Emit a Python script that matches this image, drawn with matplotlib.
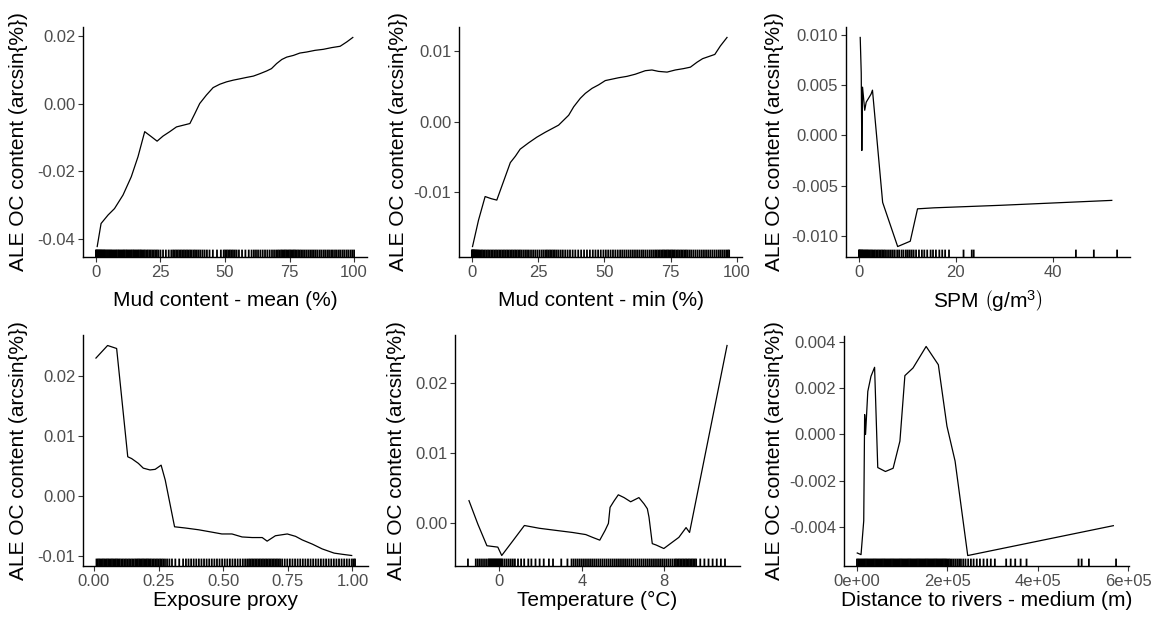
import matplotlib
matplotlib.use("Agg")
import matplotlib.pyplot as plt
from matplotlib.ticker import FixedLocator, FixedFormatter

plt.rcParams['font.family'] = ['Liberation Sans', 'DejaVu Sans']
plt.rcParams['mathtext.fontset'] = 'custom'
plt.rcParams['mathtext.rm'] = 'Liberation Sans'
plt.rcParams['mathtext.it'] = 'Liberation Sans:italic'
plt.rcParams['axes.unicode_minus'] = False

# ---- data ----
mud_mean_x = [0.5, 2, 4.7, 7.2, 10.5, 13.7, 16.3, 18.9, 21.5, 23.7, 26, 28.6, 31.2, 33.8,
              36.4, 38.3, 40.2, 42.8, 45.4, 48, 50.6, 53.2, 55.8, 58.3, 61, 63.5, 66.1,
              68, 70, 72, 73.9, 76.5, 79, 81.6, 84.9, 88.1, 91.3, 94.6, 97.2, 99.5]
mud_mean_y = [-0.0422, -0.0354, -0.0329, -0.031, -0.027, -0.0216, -0.0157, -0.0083,
              -0.0098, -0.0111, -0.0096, -0.0083, -0.0069, -0.0064, -0.0059, -0.003,
              0.0, 0.0025, 0.0047, 0.0057, 0.0064, 0.0069, 0.0073, 0.0077, 0.0081,
              0.0088, 0.0096, 0.0103, 0.0118, 0.013, 0.0137, 0.0142, 0.0149, 0.0152,
              0.0157, 0.016, 0.0165, 0.0169, 0.0182, 0.0195]
mud_mean_rug = [0, 0.2, 0.4, 0.7, 0.9, 1.2, 1.5, 1.7, 2, 2.3, 2.6, 2.9, 3.2, 3.5, 3.9, 4.3,
                4.7, 5.1, 5.5, 5.9, 6.3, 6.8, 7.2, 7.7, 8.1, 8.6, 9, 9.5, 9.9, 10.4, 10.8,
                11.2, 11.7, 12.1, 12.6, 13, 13.5, 13.9, 14.4, 14.8, 15.3, 15.7, 16.2, 16.6,
                17.1, 17.5, 18, 18.5, 19, 19.6, 20.1, 20.7, 21.2, 21.8, 22.4, 23, 23.6, 24.2,
                25, 26, 27.1, 28.2, 29.2, 29.9, 30.5, 31.1, 31.7, 32.3, 32.9, 33.5, 34.1,
                34.7, 35.3, 35.9, 36.5, 37.1, 37.8, 38.4, 39.1, 39.8, 40.5, 41.3, 42.1, 43,
                44, 45.3, 46.9, 48.4, 49.5, 50.1, 50.7, 51.3, 51.9, 52.5, 53.1, 53.8, 54.5,
                55.4, 56.6, 57.9, 59.2, 60.3, 61.2, 62, 62.8, 63.7, 64.6, 65.5, 66.4, 67.3,
                68.2, 69, 69.8, 70.5, 71.1, 71.7, 72.2, 72.7, 73.2, 73.7, 74.2, 74.7, 75.2,
                75.7, 76.2, 76.7, 77.2, 77.7, 78.3, 78.9, 79.5, 80.2, 80.9, 81.6, 82.3, 83,
                83.7, 84.4, 85.1, 85.8, 86.6, 87.3, 88.1, 88.8, 89.6, 90.3, 91.1, 91.8, 92.6,
                93.3, 94.1, 94.8, 95.6, 96.3, 97.1, 97.8, 98.6, 99.3, 100]

mud_min_x = [0.25, 2.5, 5, 7.3, 9.4, 12, 14.5, 16.4, 18.2, 21.4, 24.5, 27.7, 30.2, 32.7,
             34.6, 36.5, 38.4, 40.9, 42.8, 45.3, 47.8, 50.3, 52.8, 55.3, 58.5, 61.6, 65.4,
             67.9, 70.4, 73.6, 76.7, 79.9, 82.4, 84.9, 87, 89.3, 91.6, 93.7, 96.2]
mud_min_y = [-0.01767, -0.01395, -0.0106, -0.0109, -0.0111, -0.0084, -0.0058, -0.0049,
             -0.0039, -0.003, -0.0022, -0.0015, -0.001, -0.0005, 0.0002, 0.0009, 0.0021,
             0.0033, 0.004, 0.0047, 0.0052, 0.0058, 0.006, 0.0062, 0.0064, 0.0067, 0.0072,
             0.0073, 0.0071, 0.007, 0.0073, 0.0075, 0.0077, 0.0084, 0.0089, 0.0092, 0.0095,
             0.0107, 0.0119]
mud_min_rug = [0, 0.15, 0.3, 0.5, 0.7, 0.9, 1.1, 1.4, 1.7, 2, 2.4, 2.8, 3.3, 3.8, 4.3, 4.9,
               5.5, 6.1, 6.7, 7.3, 7.9, 8.5, 9.1, 9.7, 10.3, 10.9, 11.5, 12.1, 12.7, 13.3,
               13.9, 14.5, 15.1, 15.7, 16.3, 16.9, 17.5, 18.1, 18.7, 19.4, 20.1, 20.8, 21.5,
               22.3, 23.1, 23.9, 24.7, 25.5, 26.3, 27, 27.7, 28.3, 28.9, 29.5, 30.1, 30.7,
               31.3, 32, 32.7, 33.5, 34.3, 35.2, 36.1, 37, 38, 39, 40.1, 41.2, 42.3, 43.4,
               44.5, 45.6, 46.6, 47.6, 48.6, 49.6, 50.5, 51.4, 52.3, 53.2, 54.1, 55, 55.9,
               56.7, 57.5, 58.3, 59.1, 59.9, 60.7, 61.5, 62.3, 63.1, 63.9, 64.6, 65.4, 66.2,
               67, 67.7, 68.4, 69.1, 69.7, 70.3, 70.9, 71.5, 72, 72.5, 73, 73.5, 74, 74.5,
               75, 75.5, 76, 76.5, 77.1, 77.7, 78.3, 78.9, 79.5, 80.1, 80.7, 81.3, 82, 82.7,
               83.5, 84.3, 85.1, 85.9, 86.7, 87.5, 88.3, 89.1, 89.9, 90.7, 91.5, 92.3, 93.1,
               93.8, 94.5, 95.2, 95.9, 96.5, 97]

spm_x = [0.27, 0.48, 0.6, 0.75, 1.2, 1.5, 2.5, 2.8, 4.9, 8.0, 10.6, 12.1, 15.5, 29.2, 52.2]
spm_y = [0.00974, 0.0062, -0.0015, 0.0048, 0.0025, 0.0033, 0.0041, 0.0045, -0.00666,
         -0.01105, -0.01052, -0.0073, -0.0072, -0.00695, -0.00646]
spm_rug = [0, 0.1, 0.2, 0.35, 0.5, 0.65, 0.8, 1, 1.2, 1.4, 1.6, 1.8, 2, 2.25, 2.5, 2.75, 3,
           3.3, 3.6, 3.9, 4.2, 4.5, 4.8, 5.1, 5.4, 5.8, 6.2, 6.6, 7, 7.4, 7.9, 8.3, 8.8, 9.2,
           9.7, 10.1, 10.5, 10.9, 11.3, 11.8, 12.4, 13, 13.5, 14.1, 14.8, 15.3, 15.9, 16.6,
           17.2, 17.8, 18.6, 21.6, 23.3, 23.7, 44.8, 48.5, 53.3]

expo_x = [0.008, 0.053, 0.088, 0.131, 0.146, 0.172, 0.191, 0.217, 0.237, 0.26, 0.276,
          0.312, 0.353, 0.405, 0.457, 0.495, 0.534, 0.573, 0.612, 0.651, 0.67, 0.702,
          0.748, 0.78, 0.806, 0.845, 0.883, 0.929, 0.961, 0.997]
expo_y = [0.023, 0.0251, 0.0246, 0.0065, 0.0062, 0.0054, 0.0046, 0.0043, 0.0044, 0.0051,
          0.0026, -0.0052, -0.0054, -0.0057, -0.0061, -0.0064, -0.0064, -0.0069, -0.007,
          -0.007, -0.0076, -0.0067, -0.0064, -0.0068, -0.0074, -0.0081, -0.0089, -0.0096,
          -0.0098, -0.01]
expo_rug = [0.01, 0.015, 0.02, 0.025, 0.03, 0.035, 0.04, 0.045, 0.05, 0.055, 0.06, 0.065,
            0.07, 0.075, 0.08, 0.085, 0.09, 0.095, 0.1, 0.106, 0.112, 0.118, 0.124, 0.13,
            0.136, 0.142, 0.148, 0.154, 0.16, 0.165, 0.17, 0.175, 0.18, 0.185, 0.19, 0.195,
            0.2, 0.205, 0.21, 0.215, 0.22, 0.226, 0.232, 0.238, 0.244, 0.25, 0.256, 0.262,
            0.268, 0.275, 0.283, 0.292, 0.302, 0.315, 0.33, 0.345, 0.356, 0.366, 0.376,
            0.386, 0.396, 0.406, 0.416, 0.426, 0.436, 0.446, 0.456, 0.466, 0.476, 0.486,
            0.496, 0.506, 0.516, 0.526, 0.536, 0.546, 0.556, 0.566, 0.576, 0.585, 0.593,
            0.6, 0.606, 0.612, 0.618, 0.624, 0.63, 0.636, 0.642, 0.648, 0.654, 0.66, 0.666,
            0.672, 0.678, 0.684, 0.69, 0.696, 0.702, 0.708, 0.714, 0.72, 0.728, 0.738,
            0.748, 0.758, 0.768, 0.778, 0.788, 0.798, 0.808, 0.818, 0.828, 0.838, 0.848,
            0.858, 0.868, 0.878, 0.888, 0.898, 0.908, 0.918, 0.928, 0.938, 0.948, 0.958,
            0.968, 0.978, 0.988, 0.998, 1.005, 1.01]

temp_x = [-1.48, -1.05, -0.61, -0.08, 0.11, 0.65, 1.21, 1.94, 2.74, 3.55, 4.19, 4.52, 4.87,
          5.13, 5.29, 5.37, 5.56, 5.77, 6.05, 6.37, 6.77, 7.02, 7.18, 7.26, 7.42, 7.61,
          7.98, 8.39, 8.71, 9.06, 9.23, 11.05]
temp_y = [0.00316, -0.0002, -0.0033, -0.0035, -0.0047, -0.0026, -0.0004, -0.0008, -0.0011,
          -0.0014, -0.0017, -0.0021, -0.0025, -0.0011, -0.0001, 0.0022, 0.0031, 0.004,
          0.0036, 0.003, 0.0036, 0.0027, 0.002, 0.0008, -0.003, -0.0032, -0.0037, -0.0028,
          -0.0021, -0.0007, -0.0014, 0.0254]
temp_rug = [-1.53, -1.15, -1.05, -0.95, -0.85, -0.75, -0.65, -0.55, -0.5, -0.45, -0.4, -0.35,
            -0.3, -0.25, -0.2, -0.15, -0.1, -0.05, 0, 0.05, 0.1, 0.15, 0.25, 0.35, 0.45, 0.55,
            0.65, 0.75, 0.9, 1.05, 1.2, 1.4, 1.55, 1.75, 1.95, 2.15, 2.4, 2.6, 3.0, 3.3, 3.5,
            3.6, 3.7, 3.8, 3.9, 4.0, 4.1, 4.2, 4.3, 4.4, 4.5, 4.6, 4.7, 4.8, 4.9, 5.0, 5.1,
            5.2, 5.3, 5.4, 5.5, 5.6, 5.7, 5.8, 5.9, 6.0, 6.1, 6.2, 6.3, 6.4, 6.5, 6.6, 6.7,
            6.8, 6.9, 7.0, 7.1, 7.2, 7.3, 7.4, 7.5, 7.6, 7.7, 7.8, 7.9, 8.0, 8.1, 8.2, 8.3,
            8.4, 8.5, 8.57, 8.64, 8.71, 8.78, 8.85, 8.92, 8.99, 9.06, 9.13, 9.2, 9.27, 9.34,
            9.41, 9.48, 9.55, 9.75, 9.95, 10.15, 10.35, 10.55, 10.75, 10.95]

# distance in units of 1e5 m
river_x = [0.007, 0.09, 0.15, 0.17, 0.19, 0.24, 0.31, 0.39, 0.46, 0.63, 0.8, 0.95, 1.06,
           1.24, 1.53, 1.8, 1.99, 2.17, 2.45, 5.67]
river_y = [-0.00512, -0.00519, -0.00373, 0.00086, 0.0, 0.00186, 0.00251, 0.0029, -0.00143,
           -0.0016, -0.00146, -0.00029, 0.00254, 0.00287, 0.0038, 0.00301, 0.00036,
           -0.00115, -0.00523, -0.00394]
river_rug = [0, 0.025, 0.05, 0.075, 0.1, 0.125, 0.15, 0.175, 0.2, 0.225, 0.25, 0.275, 0.3,
             0.325, 0.35, 0.375, 0.4, 0.425, 0.45, 0.475, 0.5, 0.525, 0.55, 0.575, 0.6,
             0.625, 0.65, 0.675, 0.7, 0.725, 0.75, 0.775, 0.8, 0.825, 0.85, 0.875, 0.9,
             0.925, 0.95, 0.975, 1, 1.025, 1.05, 1.075, 1.1, 1.125, 1.15, 1.175, 1.2, 1.225,
             1.25, 1.275, 1.3, 1.325, 1.35, 1.375, 1.4, 1.425, 1.45, 1.475, 1.5, 1.525, 1.55,
             1.575, 1.6, 1.625, 1.65, 1.675, 1.7, 1.725, 1.75, 1.775, 1.8, 1.825, 1.85,
             1.875, 1.9, 1.925, 1.95, 1.975, 2.0, 2.03, 2.06, 2.1, 2.14, 2.18, 2.22, 2.26,
             2.3, 2.35, 2.4, 2.46, 2.52, 2.58, 2.65, 2.72, 2.8, 2.88, 2.96, 3.05, 3.3, 3.4,
             3.5, 3.62, 3.75, 4.9, 4.97, 5.13, 5.73]

y_title = "ALE OC content (arcsin{%})"
x_titles = ["Mud content - mean (%)", "Mud content - min (%)", r"SPM $\left(\mathrm{g/m^3}\right)$",
            "Exposure proxy", "Temperature (°C)", "Distance to rivers - medium (m)"]

x_ticks = [[0, 25, 50, 75, 100], [0, 25, 50, 75, 100], [0, 20, 40],
           [0, 0.25, 0.5, 0.75, 1.0], [0, 4, 8], [0, 2, 4, 6]]
x_ticklabels = [["0", "25", "50", "75", "100"], ["0", "25", "50", "75", "100"],
                ["0", "20", "40"], ["0.00", "0.25", "0.50", "0.75", "1.00"],
                ["0", "4", "8"], ["0e+00", "2e+05", "4e+05", "6e+05"]]
y_ticks = [[-0.04, -0.02, 0.0, 0.02], [-0.01, 0.0, 0.01],
           [-0.01, -0.005, 0.0, 0.005, 0.01], [-0.01, 0.0, 0.01, 0.02],
           [0.0, 0.01, 0.02], [-0.004, -0.002, 0.0, 0.002, 0.004]]
y_ticklabels = [["-0.04", "-0.02", "0.00", "0.02"], ["-0.01", "0.00", "0.01"],
                ["-0.010", "-0.005", "0.000", "0.005", "0.010"],
                ["-0.01", "0.00", "0.01", "0.02"], ["0.00", "0.01", "0.02"],
                ["-0.004", "-0.002", "0.000", "0.002", "0.004"]]

series = [(mud_mean_x, mud_mean_y, mud_mean_rug), (mud_min_x, mud_min_y, mud_min_rug),
          (spm_x, spm_y, spm_rug), (expo_x, expo_y, expo_rug),
          (temp_x, temp_y, temp_rug), (river_x, river_y, river_rug)]

# panel boxes in pixels: left, right, top, bottom
W, H = 1152, 617
boxes = [(83, 367, 27, 257), (459, 742, 27, 257), (846, 1130, 27, 257),
         (83, 368, 335, 566), (455, 740, 335, 566), (844, 1129, 336, 566)]
ylab_x = [19, 398, 774, 19, 397, 774]
xlab_y = [301, 301, 301, 600, 600, 600]

fig = plt.figure(figsize=(W / 100, H / 100), dpi=100)

for i, (xs, ys, rug) in enumerate(series):
    l, r, t, b = boxes[i]
    ax = fig.add_axes([l / W, 1 - b / H, (r - l) / W, (b - t) / H])
    ax.plot(xs, ys, color='black', lw=0.9)
    # rug: no pixel snapping so neighbouring ticks blend into a band
    ax.vlines(rug, 0, 0.032, transform=ax.get_xaxis_transform(), color='black',
              lw=1.3, snap=False)

    # ggplot-style 5% expansion
    lo = min(min(xs), min(rug))
    hi = max(max(xs), max(rug))
    pad = (hi - lo) * 0.05
    ax.set_xlim(lo - pad, hi + pad)
    pad = (max(ys) - min(ys)) * 0.05
    ax.set_ylim(min(ys) - pad, max(ys) + pad)

    ax.xaxis.set_major_locator(FixedLocator(x_ticks[i]))
    ax.xaxis.set_major_formatter(FixedFormatter(x_ticklabels[i]))
    ax.yaxis.set_major_locator(FixedLocator(y_ticks[i]))
    ax.yaxis.set_major_formatter(FixedFormatter(y_ticklabels[i]))

    for s in ['top', 'right']:
        ax.spines[s].set_visible(False)
    for s in ['left', 'bottom']:
        ax.spines[s].set_linewidth(1.0)
    ax.tick_params(labelsize=12, labelcolor='#4d4d4d', color='#333333',
                   length=3.5, width=0.8, pad=2)

    cx = (l + r) / 2
    fig.text(cx / W, 1 - xlab_y[i] / H, x_titles[i], ha='center', va='center', fontsize=15)
    fig.text(ylab_x[i] / W, 1 - (t + b) / 2 / H, y_title, ha='center', va='center',
             rotation=90, fontsize=15)

fig.savefig("out.png", dpi=100)
